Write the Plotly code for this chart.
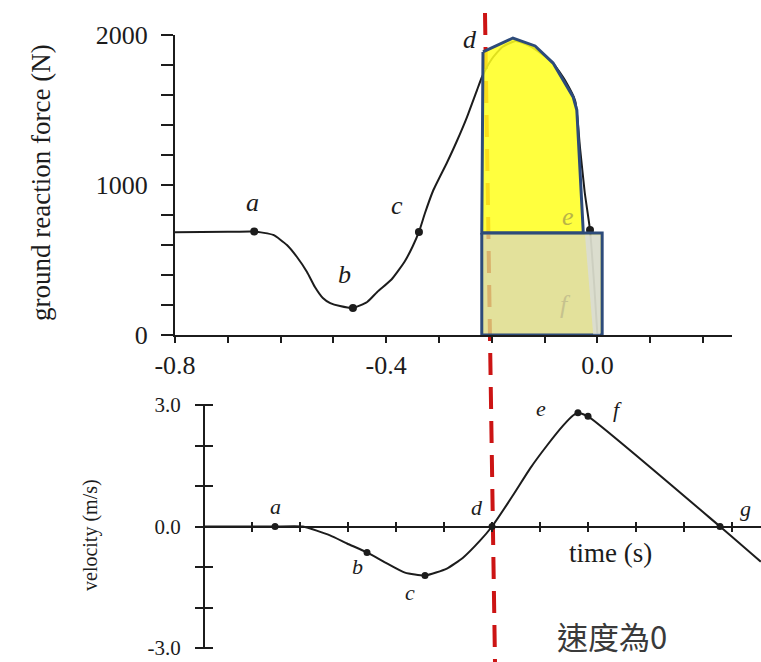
import plotly.graph_objects as go

# ---------------- data ----------------
# Ground reaction force during a countermovement jump (top panel)
force_t = [-0.80, -0.70, -0.65, -0.614, -0.588, -0.569, -0.550, -0.535, -0.520, -0.506,
           -0.4875, -0.463, -0.436, -0.417, -0.39, -0.365, -0.35, -0.338, -0.3265, -0.3114,
           -0.2848, -0.2659, -0.247, -0.228, -0.2186, -0.20, -0.18, -0.155, -0.13, -0.10,
           -0.084, -0.06, -0.042, -0.033, -0.024, -0.014, -0.006, 0.0]
force_N = [685, 688, 690, 667, 600, 520, 420, 320, 247, 213,
           193, 180, 220, 287, 370, 490, 590, 687, 813, 960,
           1150, 1295, 1453, 1633, 1720, 1840, 1920, 1960, 1930, 1860,
           1813, 1690, 1560, 1250, 950, 700, 330, 0]
force_key_names = ["a", "b", "c", "e"]
force_key_t = [-0.65, -0.463, -0.338, -0.014]
force_key_N = [690, 180, 687, 700]

# Highlighted impulse regions (propulsive part above body weight, body-weight block)
impulse_t = [-0.2167, -0.160, -0.118, -0.084, -0.046, -0.039, -0.027, -0.027, -0.219, -0.2167]
impulse_N = [1887, 1980, 1927, 1813, 1587, 1500, 700, 680, 680, 1887]
weight_t = [-0.219, 0.009, 0.009, -0.219, -0.219]
weight_N = [680, 680, 0, 0, 680]
strip_t = [-0.0235, 0.005, 0.005, -0.008, -0.0235]
strip_N = [665, 665, 5, 5, 665]

# Centre-of-mass velocity (bottom panel)
vel_t = [-0.80, -0.70, -0.652, -0.594, -0.5375, -0.502, -0.4604, -0.419, -0.3813, -0.3396,
         -0.294, -0.2604, -0.225, -0.20, -0.1563, -0.1208, -0.0854, -0.052, -0.0313, -0.021,
         0.0, 0.275, 0.36]
vel_v = [0, 0, 0, 0, -0.22, -0.42, -0.64, -0.91, -1.14, -1.21,
         -1.04, -0.77, -0.35, 0, 0.77, 1.43, 2.0, 2.49, 2.74, 2.81,
         2.72, 0, -0.87]
vel_key_names = ["a", "b", "c", "d", "e", "f", "g"]
vel_key_t = [-0.652, -0.4604, -0.3396, -0.20, -0.021, 0.0, 0.275]
vel_key_v = [0, -0.64, -1.21, 0, 2.81, 2.72, 0]

# Axis ticks
force_tickvals = [0, 200, 400, 600, 800, 1000, 1200, 1400, 1600, 1800, 2000]
force_ticktext = ["0", "", "", "", "", "1000", "", "", "", "", "2000"]
time_tickvals = [-0.8, -0.7, -0.6, -0.5, -0.4, -0.3, -0.2, -0.1, 0.0, 0.1, 0.2]
time_ticktext = ["-0.8", "", "", "", "-0.4", "", "", "", "0.0", "", ""]
vel_tickvals = [-3, -2, -1, 0, 1, 2, 3]
vel_ticktext = ["-3.0", "", "", "0.0", "", "", "3.0"]
vel_time_tickvals = [-0.7, -0.6, -0.5, -0.4, -0.3, -0.2, -0.1, 0.0, 0.1, 0.2, 0.3]

# ---------------- figure ----------------
W, H = 761, 662
SERIF = "Liberation Serif"
INK = "#1c1c1c"

def px_x(p):
    return p / W

def px_y(p):
    return 1 - p / H

fig = go.Figure()

fig.add_trace(go.Scatter(x=force_t, y=force_N, mode="lines", line=dict(color=INK, width=2, shape="spline", smoothing=0.5),
                         xaxis="x", yaxis="y", hoverinfo="skip"))
fig.add_trace(go.Scatter(x=force_key_t, y=force_key_N, mode="markers", marker=dict(color=INK, size=8),
                         xaxis="x", yaxis="y", hoverinfo="skip"))
fig.add_trace(go.Scatter(x=impulse_t, y=impulse_N, mode="lines", fill="toself",
                         fillcolor="rgba(255,255,30,0.86)", line=dict(color="#2d4b7a", width=3),
                         xaxis="x", yaxis="y", hoverinfo="skip"))
fig.add_trace(go.Scatter(x=weight_t, y=weight_N, mode="lines", fill="toself",
                         fillcolor="rgba(220,218,130,0.8)", line=dict(color="#2d4b7a", width=3),
                         xaxis="x", yaxis="y", hoverinfo="skip"))
fig.add_trace(go.Scatter(x=strip_t, y=strip_N, mode="lines", fill="toself",
                         fillcolor="rgba(215,220,228,0.7)", line=dict(color="rgba(0,0,0,0)", width=0),
                         xaxis="x", yaxis="y", hoverinfo="skip"))

fig.add_trace(go.Scatter(x=vel_t, y=vel_v, mode="lines", line=dict(color=INK, width=2, shape="spline", smoothing=0.5),
                         xaxis="x2", yaxis="y2", hoverinfo="skip"))
fig.add_trace(go.Scatter(x=vel_key_t, y=vel_key_v, mode="markers", marker=dict(color=INK, size=7),
                         xaxis="x2", yaxis="y2", hoverinfo="skip"))

# point labels (pixel offsets from each marked point)
force_label_shift = {"a": (-2, 29, INK), "b": (-8, 33, INK), "c": (-22, 26, INK), "e": (-22, 13, "#b9b447")}
annotations = []
for name, t, f in zip(force_key_names, force_key_t, force_key_N):
    dx, dy, col = force_label_shift[name]
    annotations.append(dict(x=t, y=f, xref="x", yref="y", text=name, showarrow=False, xshift=dx, yshift=dy,
                            xanchor="center", yanchor="middle",
                            font=dict(family=SERIF, size=26, color=col, style="italic")))
# d sits at the force peak time, f at take-off (force returns to zero)
annotations.append(dict(x=vel_key_t[3], y=2000, xref="x", yref="y", text="d", showarrow=False, xshift=-22, yshift=-5,
                        xanchor="center", yanchor="middle",
                        font=dict(family=SERIF, size=26, color=INK, style="italic")))
annotations.append(dict(x=force_t[-1], y=force_N[-1], xref="x", yref="y", text="f", showarrow=False, xshift=-32, yshift=30,
                        xanchor="center", yanchor="middle",
                        font=dict(family=SERIF, size=26, color="#c6c28e", style="italic")))

vel_label_shift = {"a": (0, 20), "b": (-10, -14), "c": (-15, -17), "d": (-15, 19), "e": (-37, 4), "f": (29, 7), "g": (25, 18)}
for name, t, v in zip(vel_key_names, vel_key_t, vel_key_v):
    dx, dy = vel_label_shift[name]
    annotations.append(dict(x=t, y=v, xref="x2", yref="y2", text=name, showarrow=False, xshift=dx, yshift=dy,
                            xanchor="center", yanchor="middle",
                            font=dict(family=SERIF, size=22, color=INK, style="italic")))

annotations += [
    dict(x=px_x(41), y=px_y(183), xref="paper", yref="paper", text="ground reaction force (N)", textangle=-90,
         xanchor="center", yanchor="middle", showarrow=False, font=dict(family=SERIF, size=27, color=INK)),
    dict(x=px_x(90), y=px_y(535), xref="paper", yref="paper", text="velocity (m/s)", textangle=-90,
         xanchor="center", yanchor="middle", showarrow=False, font=dict(family=SERIF, size=20, color=INK)),
    dict(x=px_x(610), y=px_y(553), xref="paper", yref="paper", text="time (s)",
         xanchor="center", yanchor="middle", showarrow=False, font=dict(family=SERIF, size=27, color=INK)),
    dict(x=px_x(612), y=px_y(635), xref="paper", yref="paper", text="速度為0",
         xanchor="center", yanchor="middle", showarrow=False, font=dict(family="Noto Sans CJK TC", size=31, color="#3a3a3a")),
]

shapes = [
    # vertical line marking the instant of zero velocity
    dict(type="line", xref="paper", yref="paper", x0=px_x(485), y0=px_y(13), x1=px_x(495), y1=0,
         line=dict(color="#cc1414", width=4, dash="22px,12px"), layer="below"),
    # vertical axis line of the velocity panel
    dict(type="line", xref="paper", yref="y2", x0=px_x(204), x1=px_x(204), y0=-3, y1=3,
         line=dict(color=INK, width=2)),
]

axis_font = dict(family=SERIF, size=26, color=INK)

fig.update_layout(
    template="none",
    width=W, height=H, margin=dict(l=0, r=0, t=0, b=0, autoexpand=False),
    paper_bgcolor="white", plot_bgcolor="rgba(0,0,0,0)", showlegend=False,
    xaxis=dict(domain=[px_x(175), px_x(732)], range=[-0.8, 0.2549], anchor="y", automargin=False,
               showline=True, linecolor=INK, linewidth=2, showgrid=False, zeroline=False,
               ticks="outside", ticklen=6, tickwidth=2, tickcolor=INK,
               tickmode="array", tickvals=time_tickvals, ticktext=time_ticktext,
               tickfont=axis_font, ticklabelstandoff=0),
    yaxis=dict(domain=[1 - 335 / H, 1 - 35 / H], range=[0, 2000], anchor="x", automargin=False,
               showline=True, linecolor=INK, linewidth=2, showgrid=False, zeroline=False,
               ticks="outside", ticklen=12, tickwidth=2, tickcolor=INK,
               tickmode="array", tickvals=force_tickvals, ticktext=force_ticktext,
               tickfont=axis_font, ticklabelstandoff=8),
    xaxis2=dict(domain=[px_x(204), 1.0], range=[-0.8, 0.3604], anchor="free", position=1 - 521 / H,
                automargin=False, showline=False, showgrid=False, zeroline=False,
                ticks="outside", ticklen=10, tickwidth=2, tickcolor=INK,
                tickmode="array", tickvals=vel_time_tickvals, showticklabels=False),
    yaxis2=dict(domain=[14 / H, 1 - 405 / H], range=[-3, 3], anchor="free", position=px_x(213),
                automargin=False, showline=False, showgrid=False, zeroline=True, zerolinecolor=INK, zerolinewidth=2,
                ticks="outside", ticklen=18, tickwidth=2, tickcolor=INK,
                tickmode="array", tickvals=vel_tickvals, ticktext=vel_ticktext,
                tickfont=dict(family=SERIF, size=21, color=INK), ticklabelstandoff=10),
    annotations=annotations, shapes=shapes,
)

fig.write_html("out.html")
